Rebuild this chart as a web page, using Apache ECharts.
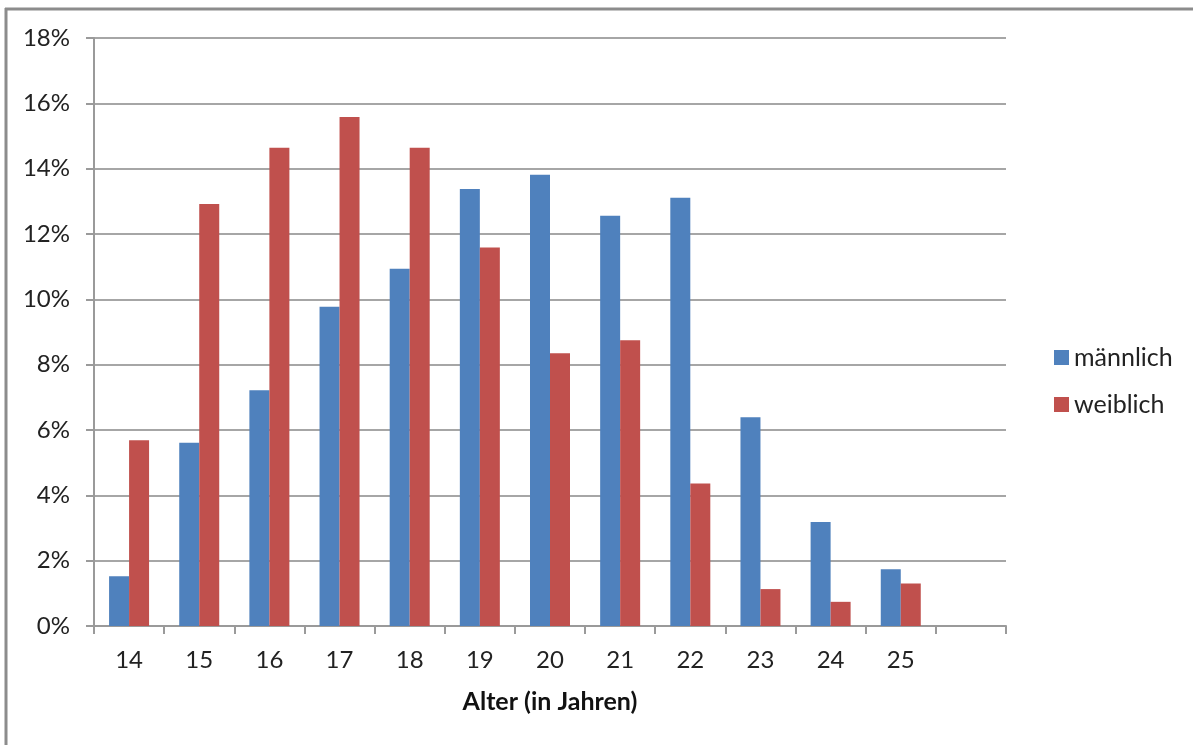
<!DOCTYPE html>
<html>
<head>
<meta charset="utf-8">
<script src="https://cdn.jsdelivr.net/npm/echarts@6/dist/echarts.min.js"></script>
<style>
html,body{margin:0;padding:0;background:#fff;}
#chart{width:1193px;height:745px;}
</style>
</head>
<body>
<div id="chart"></div>
<script>
// Categories (age in years); last slot is empty in the original chart
var categories = ['14','15','16','17','18','19','20','21','22','23','24','25',''];
// Share in percent
var maennlich = [1.52, 5.61, 7.22, 9.77, 10.94, 13.38, 13.81, 12.56, 13.11, 6.39, 3.18, 1.74];
var weiblich  = [5.69, 12.92, 14.64, 15.58, 14.64, 11.59, 8.35, 8.75, 4.36, 1.13, 0.74, 1.30];
var seriesNames = ['männlich', 'weiblich'];
var xAxisTitle = 'Alter (in Jahren)';

var FONT = 'Lato, "Open Sans", sans-serif';
var chart = echarts.init(document.getElementById('chart'), null, {renderer: 'canvas'});
chart.setOption({
  backgroundColor: '#ffffff',
  animation: false,
  textStyle: {fontFamily: FONT},
  graphic: [
    {type: 'line', shape: {x1: 5, y1: 9, x2: 1193, y2: 9}, style: {stroke: '#8c8c8c', lineWidth: 3}, silent: true},
    {type: 'line', shape: {x1: 6, y1: 8, x2: 6, y2: 745}, style: {stroke: '#8c8c8c', lineWidth: 3}, silent: true}
  ],
  grid: {left: 94, right: 187, top: 38, bottom: 119, containLabel: false},
  legend: {
    orient: 'vertical',
    left: 1049,
    top: 340,
    itemWidth: 15,
    itemHeight: 15,
    itemGap: 22,
    icon: 'rect',
    data: seriesNames,
    textStyle: {fontFamily: FONT, fontSize: 25, color: '#222', padding: [0, 0, 0, 0]}
  },
  xAxis: {
    type: 'category',
    data: categories,
    boundaryGap: true,
    name: xAxisTitle,
    nameLocation: 'middle',
    nameGap: 63,
    nameTextStyle: {fontFamily: FONT, fontSize: 25, fontWeight: 'bold', color: '#111'},
    axisLine: {show: true, lineStyle: {color: '#9a9a9a', width: 2}},
    axisTick: {show: true, length: 8, lineStyle: {color: '#9a9a9a', width: 2}},
    axisLabel: {fontFamily: FONT, fontSize: 24, color: '#222', margin: 22, interval: 0},
    splitLine: {show: false}
  },
  yAxis: {
    type: 'value',
    min: 0,
    max: 18,
    interval: 2,
    axisLine: {show: true, lineStyle: {color: '#9a9a9a', width: 2}},
    axisTick: {show: true, length: 8, lineStyle: {color: '#9a9a9a', width: 2}},
    axisLabel: {fontFamily: FONT, fontSize: 24, color: '#222', margin: 24, formatter: '{value}%'},
    splitLine: {show: true, lineStyle: {color: '#a6a6a6', width: 2}}
  },
  series: [
    {name: seriesNames[0], type: 'bar', data: maennlich, barWidth: 20, barGap: '0%',
     itemStyle: {color: '#4F81BD'}},
    {name: seriesNames[1], type: 'bar', data: weiblich, barWidth: 20, barGap: '0%',
     itemStyle: {color: '#C0504D'}}
  ]
});
</script>
</body>
</html>
